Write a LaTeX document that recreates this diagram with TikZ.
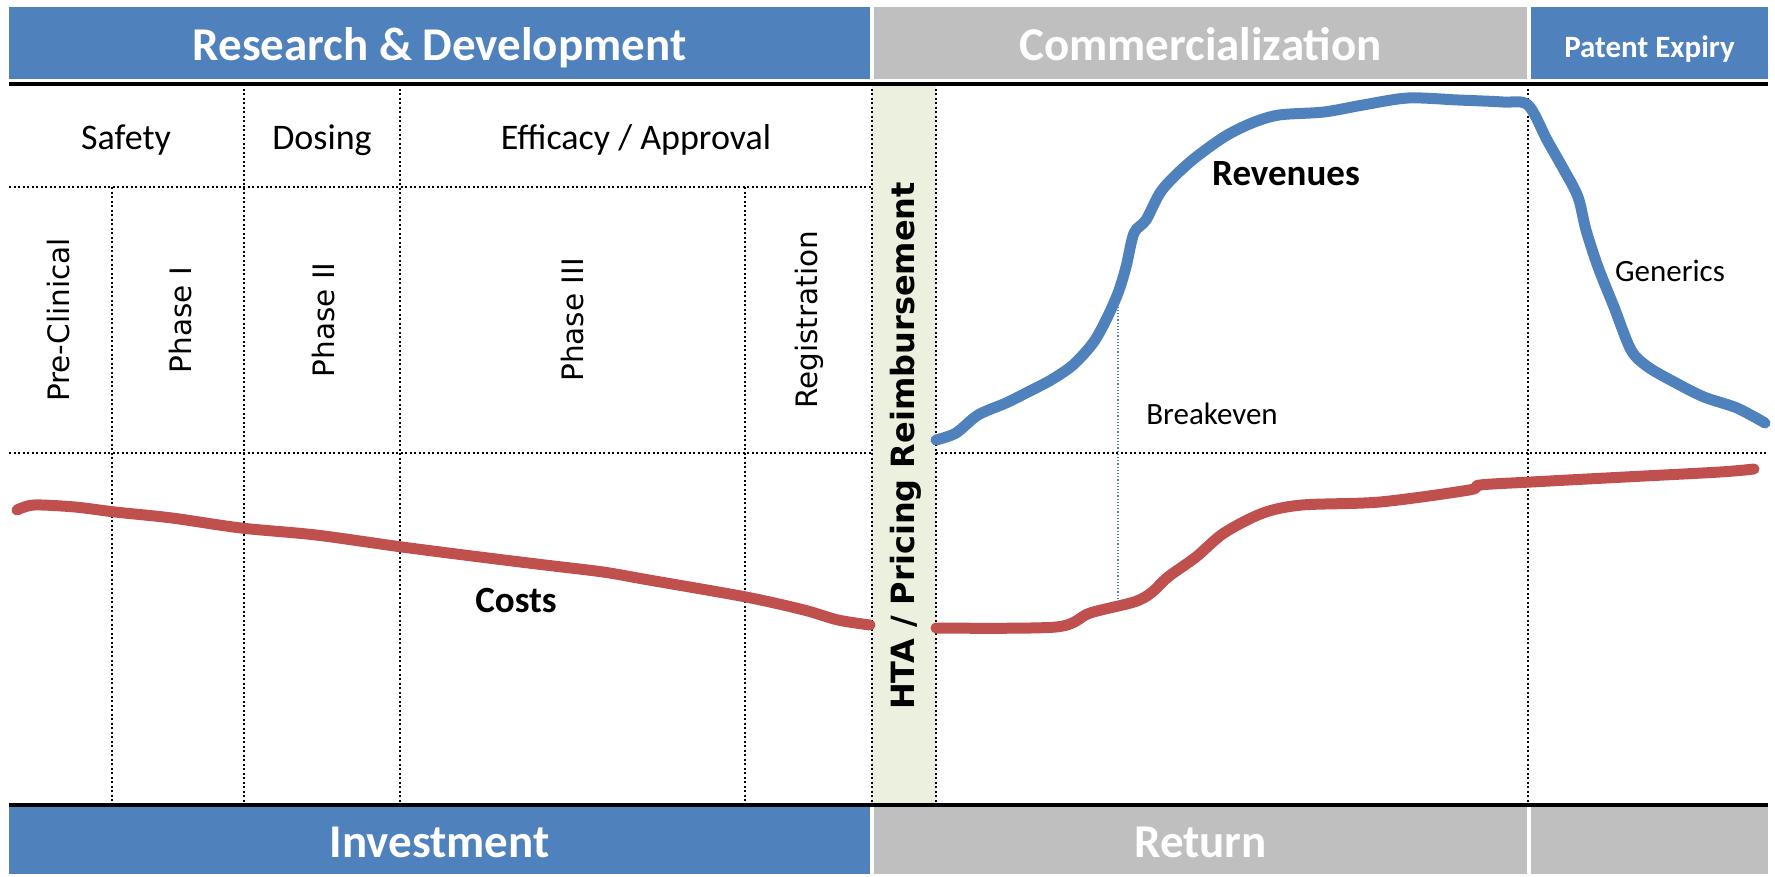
\documentclass[tikz,border=0pt]{standalone}
\usepackage{fontspec}
\setmainfont{Carlito}
\newfontfamily\vfont{DejaVu Sans}
\usepackage{tikz}
\usetikzlibrary{positioning}
\definecolor{rdblue}{HTML}{4F81BD}
\definecolor{rtgray}{HTML}{BFBFBF}
\definecolor{costred}{HTML}{C0504D}
\definecolor{htagreen}{HTML}{EBF1DE}
\newcommand{\txtsize}[1]{\fontsize{#1pt}{#1pt}\selectfont}

\begin{document}
\begin{tikzpicture}[x=1pt, y=-1pt,
    band/.style={inner sep=0pt, minimum height=72pt, text height=42pt, text depth=8pt,
        text=white, font=\txtsize{47}\bfseries},
    gridline/.style={line width=2pt, dash pattern=on 2pt off 2.5pt},
    rule/.style={line width=3.5pt},
    phase/.style={font=\txtsize{36}},
    trial/.style={rotate=90, font=\vfont\txtsize{29.5}},
    curve/.style={line width=11pt, line join=round, line cap=round}]
    \useasboundingbox (0,0) rectangle (1775,876);

    % header and footer bands
    \node[band, fill=rdblue, minimum width=861pt] (rd) at (439.5,43) {Research \& Development};
    \node[band, fill=rtgray, minimum width=653pt] (comm) at (1200.5,43) {Commercialization};
    \node[band, fill=rdblue, minimum width=237pt, text height=36pt, font=\txtsize{31}\bfseries] (patent) at (1649.5,43) {Patent Expiry};
    \node[band, fill=rdblue, minimum width=861pt, minimum height=67pt] (invest) at (439.5,840.5) {Investment};
    \node[band, fill=rtgray, minimum width=653pt, minimum height=67pt] (ret) at (1200.5,840.5) {Return};
    \node[band, fill=rtgray, minimum width=237pt, minimum height=67pt] (expiry) at (1649.5,840.5) {};
    \node[fill=htagreen, inner sep=0pt, minimum width=64pt, minimum height=720pt] (htaband) at (904,444) {};

    % grid
    \draw[gridline] (9,187) -- (872,187);
    \draw[gridline] (9,453) -- (872,453);
    \draw[gridline] (936,453) -- (1768,453);
    \foreach \x in {244,400,872,936,1528}
        \draw[gridline] (\x,84) -- (\x,804);
    \foreach \x in {112,745}
        \draw[gridline] (\x,187) -- (\x,804);
    \draw[rule] (9,84) -- (1768,84);
    \draw[rule] (9,805) -- (1768,805);

    \node[phase] (safety) at (126,140) {Safety};
    \node[phase] (dosing) at (322,140) {Dosing};
    \node[phase] (efficacy) at (636,140) {Efficacy / Approval};
    \node[trial] (preclin) at (59,320) {Pre-Clinical};
    \node[trial] (ph1) at (180,320) {Phase I};
    \node[trial] (ph2) at (323,320) {Phase II};
    \node[trial] (ph3) at (572,320) {Phase III};
    \node[trial] (reg) at (809,320) {Registration};
    \node[rotate=90, font=\vfont\bfseries\txtsize{32}] (hta) at (906,446) {HTA / Pricing Reimbursement};

    % curves
    \draw[curve, rdblue] plot[smooth, tension=0.5] coordinates {
        (936,440) (956,433) (978,415) (1006,403) (1028,392) (1051,380) (1073,365)
        (1093,343) (1106,320) (1118,293) (1126,267) (1134,233) (1146,220) (1162,190)
        (1190,162) (1224,137) (1252,123) (1279,115) (1324,112) (1363,105) (1408,98)
        (1458,100) (1503,102) (1528,105) (1547,140) (1564,170) (1578,197) (1586,230)
        (1598,267) (1614,307) (1631,350) (1648,367) (1676,383) (1704,397) (1737,408)
        (1765,423)};
    \draw[curve, costred] plot[smooth, tension=0.5] coordinates {
        (17,510) (34,505) (75,507) (115,512) (172,518) (241,528) (316,535) (402,547)
        (488,558) (545,565) (603,572) (649,580) (746,597) (804,610) (838,620) (870,625)};
    \draw[curve, costred] plot[smooth, tension=0.5] coordinates {
        (936,628) (1056,627) (1090,613) (1134,602) (1151,593) (1168,577) (1196,557)
        (1224,533) (1263,513) (1302,505) (1380,502) (1469,490) (1480,485) (1531,482)
        (1625,477) (1720,472) (1754,469)};
    \coordinate (betop) at (1118,297);
    \coordinate (bebot) at (1118,600);
    \draw[rdblue, line width=1.2pt, dotted] (betop) -- (bebot);

    \node[font=\txtsize{37}\bfseries] (revenues) at (1286,174) {Revenues};
    \node[font=\txtsize{31}] (generics) at (1670,271) {Generics};
    \node[font=\txtsize{31}] (breakeven) at (1212,414) {Breakeven};
    \node[font=\txtsize{37}\bfseries] (costs) at (516,600) {Costs};
\end{tikzpicture}
\end{document}
